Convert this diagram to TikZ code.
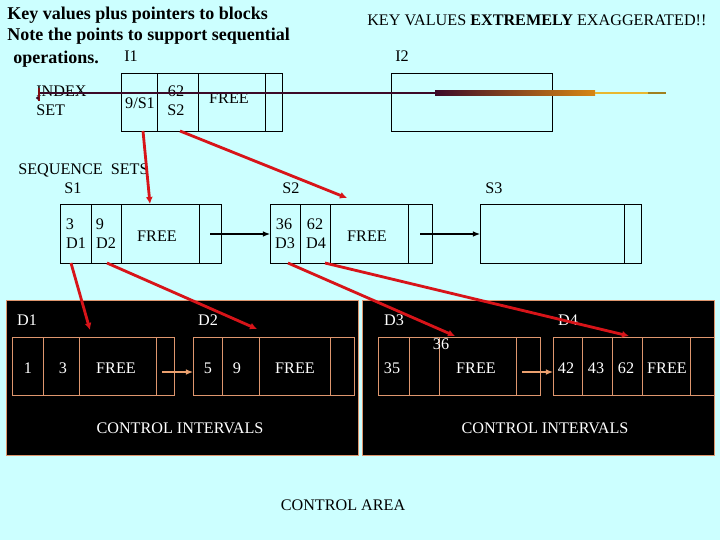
\documentclass[tikz,border=0pt]{standalone}
\usepackage{fontspec}
\setmainfont{Liberation Serif}
\usetikzlibrary{arrows.meta}

\definecolor{slidebg}{RGB}{204,255,255}
\definecolor{ptrred}{RGB}{215,20,25}
\definecolor{cellline}{RGB}{222,150,110}
\definecolor{arrowtan}{RGB}{235,160,110}
\definecolor{plum}{RGB}{60,10,40}
\definecolor{rust}{RGB}{140,40,20}
\definecolor{amber}{RGB}{215,135,20}
\definecolor{gold}{RGB}{232,184,48}
\definecolor{olivebar}{RGB}{160,128,32}

\begin{document}
\begin{tikzpicture}[x=0.025cm, y=-0.025cm,
    txt/.style={inner sep=0pt, font=\fontsize{11.5}{13}\selectfont},
    head/.style={inner sep=0pt, anchor=west, font=\fontsize{12.8}{14}\selectfont\bfseries},
    wtxt/.style={txt, white},
    blk/.style={draw=black, thin},
    cblk/.style={draw=cellline, thin},
    ptr/.style={ptrred, line width=2pt, -{Latex[length=5pt,width=5pt]}},
    nxt/.style={thick, -{Latex[length=5pt,width=4pt]}},
    cnxt/.style={nxt, arrowtan}
  ]

  \fill[slidebg] (0,0) rectangle (720,540);
  \path[use as bounding box] (0,0) rectangle (720,540);

  % headings
  \node[head] (h1) at (7,15) {Key values plus pointers to blocks};
  \node[head] (h2) at (7,36) {Note the points to support sequential};
  \node[head] (h3) at (13,59) {operations.};
  \node[txt, anchor=west] (exag) at (367,20) {KEY VALUES \textbf{EXTREMELY} EXAGGERATED!!};

  % index set
  \node[txt] (i1lbl) at (131,56) {I1};
  \node[txt] (i2lbl) at (402,56) {I2};
  \node[txt, anchor=west] (idx) at (36,91) {INDEX};
  \node[txt, anchor=west] (idxset) at (36,110) {SET};

  \draw[blk] (121,73) rectangle (282,131);
  \foreach \x in {157,198,265} \draw[blk] (\x,73) -- (\x,131);
  \draw[blk] (391,73) rectangle (552,131);

  \node[txt] (k9) at (140,103) {9/S1};
  \node[txt] (k62) at (176,91) {62};
  \node[txt] (ks2) at (176,110) {S2};
  \node[txt] (ifree) at (229,98) {FREE};

  % the exaggerated key line
  \draw[plum, line width=0.8pt] (39,93) -- (435,93);
  \shade[left color=plum, middle color=rust, right color=amber] (435,90.8) rectangle (595,95.2);
  \fill[gold] (595,91.6) rectangle (648,94.4);
  \fill[olivebar] (648,92.4) rectangle (666,93.6);
  \draw[ptrred!60!black, line width=1pt] (39,88) -- (39,101);
  \fill[plum] (37.5,98) circle (1.6);

  % sequence sets
  \node[txt, anchor=west] (seq) at (18,170) {SEQUENCE\ \ SETS};
  \node[txt] (s1lbl) at (73,188) {S1};
  \node[txt] (s2lbl) at (291,188) {S2};
  \node[txt] (s3lbl) at (494,188) {S3};

  \draw[blk] (60,204) rectangle (221,263);
  \foreach \x in {91,121,199} \draw[blk] (\x,204) -- (\x,263);
  \draw[blk] (270,204) rectangle (432,263);
  \foreach \x in {300,330,408} \draw[blk] (\x,204) -- (\x,263);
  \draw[blk] (480,204) rectangle (641,263);
  \draw[blk] (624,204) -- (624,263);

  \node[txt] (q3) at (70,224) {3};
  \node[txt] (qd1) at (76,243) {D1};
  \node[txt] (q9) at (100,224) {9};
  \node[txt] (qd2) at (106,243) {D2};
  \node[txt] (s1free) at (157,236) {FREE};
  \node[txt] (q36) at (284,224) {36};
  \node[txt] (qd3) at (285,243) {D3};
  \node[txt] (q62) at (315,224) {62};
  \node[txt] (qd4) at (316,243) {D4};
  \node[txt] (s2free) at (367,236) {FREE};

  \coordinate (s1nx) at (210,234);
  \coordinate (s2in) at (270,234);
  \coordinate (s2nx) at (420,234);
  \coordinate (s3in) at (480,234);
  \draw[nxt] (s1nx) -- (s2in);
  \draw[nxt] (s2nx) -- (s3in);

  % control intervals
  \draw[fill=black, draw=cellline] (6,300) rectangle (358,455);
  \draw[fill=black, draw=cellline] (362,300) rectangle (714,455);

  \draw[cblk] (12,337) rectangle (174,395);
  \foreach \x in {43,79,156} \draw[cblk] (\x,337) -- (\x,395);
  \draw[cblk] (193,337) rectangle (354,395);
  \foreach \x in {222,259,330} \draw[cblk] (\x,337) -- (\x,395);
  \draw[cblk] (378,337) rectangle (540,395);
  \foreach \x in {409,439,516} \draw[cblk] (\x,337) -- (\x,395);
  \draw[cblk] (553,337) rectangle (714,395);
  \foreach \x in {582,612,642,690} \draw[cblk] (\x,337) -- (\x,395);

  \node[wtxt] (d1lbl) at (27,320) {D1};
  \node[wtxt] (d2lbl) at (208,320) {D2};
  \node[wtxt] (d3lbl) at (394,320) {D3};
  \node[wtxt] (d4lbl) at (568,320) {D4};

  \node[wtxt] (c1) at (28,368) {1};
  \node[wtxt] (c3) at (63,368) {3};
  \node[wtxt] (d1free) at (116,368) {FREE};
  \node[wtxt] (c5) at (208,368) {5};
  \node[wtxt] (c9) at (237,368) {9};
  \node[wtxt] (d2free) at (295,368) {FREE};
  \node[wtxt] (c35) at (392,368) {35};
  \node[wtxt] (c36) at (441,344) {36};
  \node[wtxt] (d3free) at (476,368) {FREE};
  \node[wtxt] (c42) at (566,368) {42};
  \node[wtxt] (c43) at (596,368) {43};
  \node[wtxt] (c62) at (626,368) {62};
  \node[wtxt] (d4free) at (667,368) {FREE};

  \node[wtxt] (ci1) at (180,428) {CONTROL INTERVALS};
  \node[wtxt] (ci2) at (545,428) {CONTROL INTERVALS};
  \node[txt] (carea) at (343,505) {CONTROL AREA};

  \coordinate (d1nx) at (162,372);
  \coordinate (d2in) at (193,372);
  \coordinate (d3nx) at (522,372);
  \coordinate (d4in) at (553,372);
  \draw[cnxt] (d1nx) -- (d2in);
  \draw[cnxt] (d3nx) -- (d4in);

  % pointers
  \coordinate (i1a) at (143,131);
  \coordinate (s1top) at (150,204);
  \coordinate (i1b) at (180,131);
  \coordinate (s2top) at (347,198);
  \coordinate (s1d1) at (71,263);
  \coordinate (d1top) at (90,330);
  \coordinate (s1d2) at (107,263);
  \coordinate (d2top) at (257,329);
  \coordinate (s2d3) at (288,263);
  \coordinate (d3top) at (455,336);
  \coordinate (s2d4) at (325,263);
  \coordinate (d4top) at (629,336);

  \draw[ptr] (i1a) -- (s1top);
  \draw[ptr] (i1b) -- (s2top);
  \draw[ptr] (s1d1) -- (d1top);
  \draw[ptr] (s1d2) -- (d2top);
  \draw[ptr] (s2d3) -- (d3top);
  \draw[ptr] (s2d4) -- (d4top);

\end{tikzpicture}
\end{document}
